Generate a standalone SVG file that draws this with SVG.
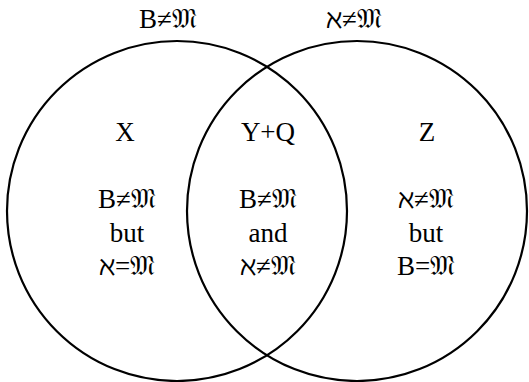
<svg xmlns="http://www.w3.org/2000/svg" width="529" height="382" viewBox="0 0 529 382">
<style>
.c{fill:none;stroke:#000;stroke-width:2.2}
.t{font-family:'Liberation Serif','DejaVu Serif',serif;font-size:27px;fill:#000;text-anchor:middle}
</style>
<rect width="529" height="382" fill="#fff"/>
<g id="connectors"></g>
<g id="left-set">
<circle class="c" cx="177" cy="211" r="170"/>
<text class="t" x="168" y="28">B≠𝔐</text>
<text class="t" x="125" y="141">X</text>
<text class="t" x="127" y="208">B≠𝔐</text>
<text class="t" x="127" y="242">but</text>
<text class="t" x="127" y="275">ℵ=𝔐</text>
</g>
<g id="right-set">
<circle class="c" cx="357" cy="211" r="170"/>
<text class="t" x="354" y="28">ℵ≠𝔐</text>
<text class="t" x="427" y="141">Z</text>
<text class="t" x="426" y="208">ℵ≠𝔐</text>
<text class="t" x="426" y="242">but</text>
<text class="t" x="426" y="275">B=𝔐</text>
</g>
<g id="intersection">
<text class="t" x="268" y="141">Y+Q</text>
<text class="t" x="268" y="208">B≠𝔐</text>
<text class="t" x="268" y="242">and</text>
<text class="t" x="268" y="275">ℵ≠𝔐</text>
</g>
</svg>
